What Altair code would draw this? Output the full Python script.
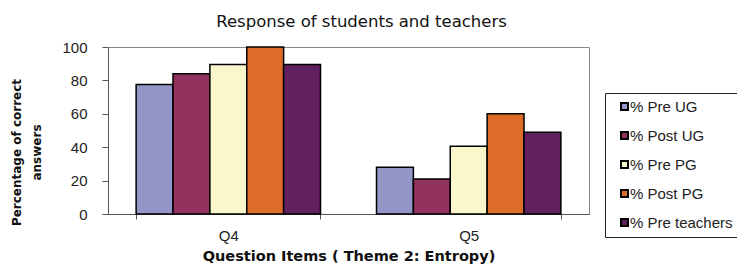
import altair as alt
import pandas as pd

questions = ["Q4", "Q5"]
groups = ["% Pre UG", "% Post UG", "% Pre PG", "% Post PG", "% Pre teachers"]
pre_ug = [77.5, 28]
post_ug = [84, 21]
pre_pg = [89.5, 40.5]
post_pg = [100, 60]
pre_teachers = [89.5, 49]
colors = ["#9496C8", "#91335E", "#FAF7CC", "#DC6C28", "#62205F"]

series = [pre_ug, post_ug, pre_pg, post_pg, pre_teachers]
rows = []
for g, vals in zip(groups, series):
    for q, v in zip(questions, vals):
        rows.append({"question": q, "group": g, "value": v})
df = pd.DataFrame(rows)

FONT = "Liberation Sans"

chart = alt.Chart(df).mark_bar(stroke="black", strokeWidth=1.5).encode(
    x=alt.X("question:N",
            scale=alt.Scale(paddingInner=0.233, paddingOuter=0.117),
            axis=alt.Axis(title="Question Items ( Theme 2: Entropy)", labelAngle=0,
                          tickBand="extent", tickSize=5, labelPadding=9,
                          titlePadding=6, labelFont=FONT, labelFontSize=15,
                          labelColor="#222", titleFont="DejaVu Sans",
                          titleFontSize=14.5, titleFontWeight="bold", titleColor="#111",
                          domainColor="#555", tickColor="#555")),
    xOffset=alt.XOffset("group:N", sort=groups,
                        scale=alt.Scale(paddingInner=0, paddingOuter=0)),
    y=alt.Y("value:Q", scale=alt.Scale(domain=[0, 100]),
            axis=alt.Axis(title=["Percentage of correct", "answers"], values=[0, 20, 40, 60, 80, 100],
                          grid=False, tickSize=6, labelPadding=15,
                          labelFont=FONT, labelFontSize=15, labelColor="#222",
                          titleFont="DejaVu Sans", titleFontSize=12, titleFontWeight="bold",
                          titleColor="#111", titlePadding=18, titleLineHeight=20,
                          titleY=105,
                          domainColor="#555", tickColor="#555")),
    color=alt.Color("group:N", sort=groups,
                    scale=alt.Scale(domain=groups, range=colors),
                    legend=alt.Legend(title=None, orient="none", legendX=497, legendY=46,
                                      symbolType="square", symbolSize=49,
                                      symbolStrokeColor="black", symbolStrokeWidth=2,
                                      symbolOffset=6,
                                      labelFont=FONT, labelFontSize=15, labelColor="#222",
                                      rowPadding=13, padding=6, labelOffset={"expr": "-2"},
                                      strokeColor="#222", fillColor="white")),
).properties(
    width=481, height=167,
    title=alt.TitleParams("Response of students and teachers", font="DejaVu Sans",
                          fontSize=16.5, fontWeight="normal", color="#111",
                          offset=10, dx=13),
    autosize=alt.AutoSizeParams(type="none"),
    padding={"left": 100, "top": 39, "right": 148, "bottom": 50},
).configure_view(stroke="#888", strokeWidth=1)

chart.save("out.html", embed_options={"renderer": "svg", "actions": False})
